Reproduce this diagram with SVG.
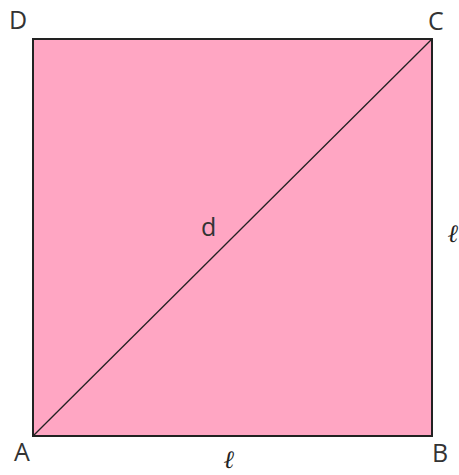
<svg xmlns="http://www.w3.org/2000/svg" width="459" height="475" viewBox="0 0 459 475">
<style>
.lbl{font-family:"Open Sans","Liberation Sans",sans-serif;font-size:25px;fill:#333;}
.ell{font-family:"Liberation Serif",serif;font-style:italic;font-weight:bold;font-size:25px;fill:#222;}
</style>
<rect width="459" height="475" fill="#fff"/>
<g id="square">
<rect x="33" y="39" width="399" height="397" fill="#FFA6C3" stroke="#222" stroke-width="2"/>
</g>
<g id="connectors">
<line x1="33" y1="436" x2="432" y2="39" stroke="#222" stroke-width="1.3"/>
</g>
<g id="labels">
<text class="lbl" x="9" y="29">D</text>
<text class="lbl" x="428" y="30">C</text>
<text class="lbl" x="14" y="461">A</text>
<text class="lbl" x="432" y="462">B</text>
<text class="lbl" x="201" y="236">d</text>
<text class="ell" x="224" y="468">ℓ</text>
<text class="ell" x="448" y="242">ℓ</text>
</g>
</svg>
